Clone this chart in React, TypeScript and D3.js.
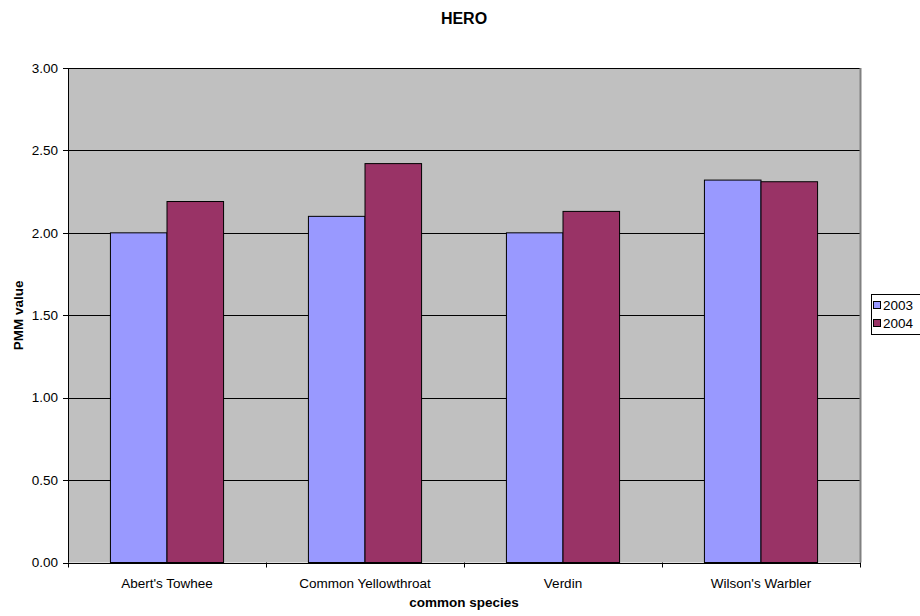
import React from "react";
import * as d3 from "d3";

const categories = ["Abert's Towhee", "Common Yellowthroat", "Verdin", "Wilson's Warbler"];
const seriesNames = ["2003", "2004"];
const values2003 = [2.0, 2.1, 2.0, 2.32];
const values2004 = [2.19, 2.42, 2.13, 2.31];
const yTicks = [0, 0.5, 1.0, 1.5, 2.0, 2.5, 3.0];
const colors = ["#9999FF", "#993366"];

const W = 920, H = 616;
const left = 68, right = 860, top = 68, bottom = 562.5;

export default function App() {
  const x = d3.scaleBand<string>().domain(categories).range([left, right]).paddingInner(0).paddingOuter(0);
  const y = d3.scaleLinear().domain([0, 3]).range([bottom, top]);
  const bw = x.bandwidth() / 3.5;
  const series = [values2003, values2004];
  const font = "'Liberation Sans', Arial, sans-serif";
  return (
    <svg width={W} height={H} style={{ position: "absolute", left: 0, top: 0, background: "#fff" }} fontFamily={font}>
      <rect x={left} y={top} width={right - left} height={bottom - top} fill="#C0C0C0" />
      {yTicks.map((t) => (
        <line key={"g" + t} x1={left} x2={right} y1={Math.round(y(t)) + 0.5} y2={Math.round(y(t)) + 0.5} stroke="#000" strokeWidth={1} />
      ))}
      <line x1={right + 0.5} x2={right + 0.5} y1={top} y2={bottom} stroke="#808080" strokeWidth={2} />
      {categories.map((c, i) =>
        series.map((s, j) => {
          const bx = (x(c) as number) + bw * 0.75 + j * bw;
          return (
            <rect key={c + j} x={bx} y={y(s[i])} width={bw} height={bottom - y(s[i])} fill={colors[j]} stroke="#000" strokeWidth={1} />
          );
        })
      )}
      <line x1={left + 0.5} x2={left + 0.5} y1={top} y2={bottom} stroke="#000" strokeWidth={1} />
      <line x1={left} x2={right} y1={Math.round(bottom) + 0.5} y2={Math.round(bottom) + 0.5} stroke="#000" strokeWidth={1} />
      {yTicks.map((t) => (
        <g key={"t" + t}>
          <line x1={left - 5} x2={left} y1={Math.round(y(t)) + 0.5} y2={Math.round(y(t)) + 0.5} stroke="#000" />
          <text x={left - 10} y={y(t)} dy="0.35em" textAnchor="end" fontSize={13.5}>{t.toFixed(2)}</text>
        </g>
      ))}
      {[...categories.map((c) => x(c) as number), right].map((px, i) => (
        <line key={"xt" + i} x1={Math.round(px) + 0.5} x2={Math.round(px) + 0.5} y1={bottom} y2={bottom + 5} stroke="#000" />
      ))}
      {categories.map((c) => (
        <text key={"l" + c} x={(x(c) as number) + x.bandwidth() / 2} y={588} textAnchor="middle" fontSize={13.5}>{c}</text>
      ))}
      <text x={464} y={24} textAnchor="middle" fontSize={16} fontWeight="bold">HERO</text>
      <text x={464} y={607} textAnchor="middle" fontSize={13.5} fontWeight="bold">common species</text>
      <text transform={`translate(23,${(top + bottom) / 2}) rotate(-90)`} textAnchor="middle" fontSize={13.5} fontWeight="bold">PMM value</text>
      <rect x={871.5} y={294.5} width={60} height={40} fill="#fff" stroke="#000" strokeWidth={1} />
      {seriesNames.map((n, j) => (
        <g key={n}>
          <rect x={873.5} y={301.5 + j * 18} width={7} height={7} fill={colors[j]} stroke="#000" strokeWidth={1} />
          <text x={883} y={305 + j * 18} dy="0.35em" fontSize={13.5}>{n}</text>
        </g>
      ))}
    </svg>
  );
}
